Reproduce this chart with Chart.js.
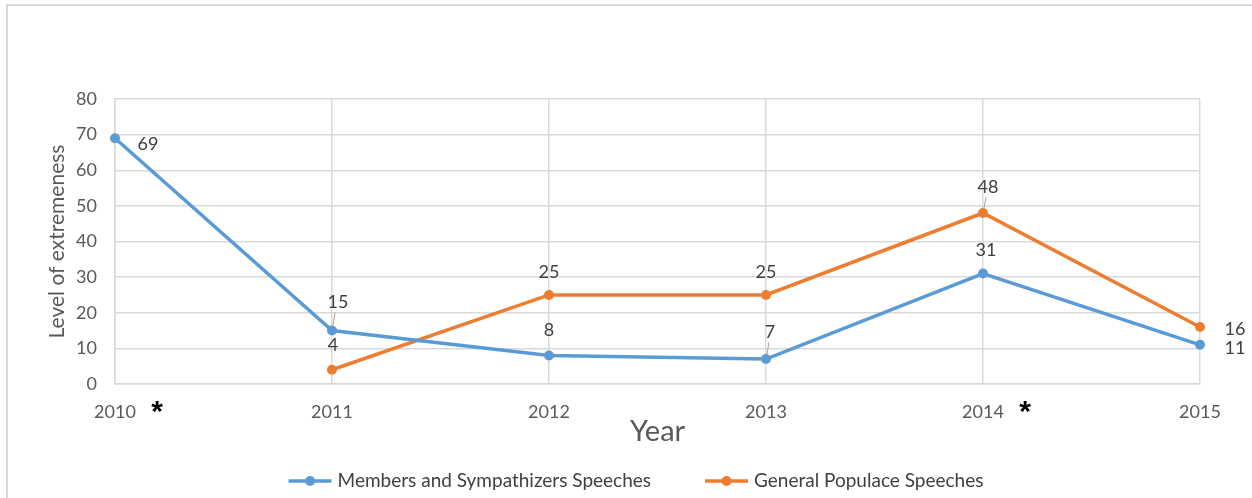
<!DOCTYPE html>
<html>
<head>
<meta charset="utf-8">
<script src="https://cdn.jsdelivr.net/npm/chart.js@4"></script>
<style>
  html, body { margin: 0; padding: 0; background: #fff; overflow: hidden; }
  #frame { position: absolute; left: 6px; top: 4px; width: 1300px; height: 600px; border: 2px solid #d9d9d9; box-sizing: border-box; }
  #wrap { position: absolute; left: 0; top: 0; width: 1252px; height: 498px; }
</style>
</head>
<body>
<div id="frame"></div>
<div id="wrap"><canvas id="chart" width="1252" height="498"></canvas></div>
<script>
// Years on the x axis
const years = ['2010', '2011', '2012', '2013', '2014', '2015'];
// Level of extremeness per year
const membersValues = [69, 15, 8, 7, 31, 11];
const populaceValues = [null, 4, 25, 25, 48, 16];
const yTicks = [0, 10, 20, 30, 40, 50, 60, 70, 80];
// Years marked with an asterisk
const starredYears = ['2010', '2014'];

const BLUE = '#5B9BD5';
const ORANGE = '#ED7D31';
const TEXT = '#595959';
const DARK = '#404040';
const GRID = '#d9d9d9';
const FONT = 'Lato';

// label placement around each point: [dx, dy, leader line]
const labelOffsets = [
  [[33, 6], [6, -28, true], [0, -25], [4, -27, true], [3, -23], [35, 3]],
  [null, [1, -25], [0, -23], [0, -23], [5, -26, true], [35, 2]]
];

const valueLabels = {
  id: 'valueLabels',
  afterDatasetsDraw(chart) {
    const ctx = chart.ctx;
    ctx.save();
    ctx.font = '18px ' + FONT;
    ctx.fillStyle = DARK;
    ctx.textAlign = 'center';
    ctx.textBaseline = 'middle';
    chart.data.datasets.forEach((ds, di) => {
      const meta = chart.getDatasetMeta(di);
      meta.data.forEach((pt, i) => {
        const v = ds.data[i];
        const off = labelOffsets[di][i];
        if (v === null || !off) return;
        const x = pt.x + off[0], y = pt.y + off[1];
        if (off[2]) {
          ctx.strokeStyle = '#a6a6a6';
          ctx.lineWidth = 1;
          ctx.beginPath();
          ctx.moveTo(pt.x + 1, pt.y - 5);
          ctx.lineTo(pt.x + 3, y + 10);
          ctx.stroke();
        }
        ctx.fillText(String(v), x, y);
      });
    });
    ctx.restore();
  }
};

const stars = {
  id: 'stars',
  afterDraw(chart) {
    const ctx = chart.ctx;
    const xs = chart.scales.x;
    ctx.save();
    ctx.font = 'bold 30px "Liberation Sans"';
    ctx.fillStyle = '#000';
    ctx.textAlign = 'center';
    const m = ctx.measureText('*');
    starredYears.forEach(yr => {
      const i = years.indexOf(yr);
      const x = xs.getPixelForTick(i) + 42;
      const cy = 407;
      ctx.fillText('*', x, cy + (m.actualBoundingBoxAscent - m.actualBoundingBoxDescent) / 2);
    });
    ctx.restore();
  }
};

// line-and-dot legend below the x axis title
const lineLegend = {
  id: 'lineLegend',
  afterDraw(chart) {
    const ctx = chart.ctx;
    const markW = 43, textGap = 6, itemGap = 54, cx = 636, cy = 481;
    ctx.save();
    ctx.font = '19px ' + FONT;
    ctx.textBaseline = 'middle';
    const items = chart.data.datasets.map(ds => ({ ds, w: markW + textGap + ctx.measureText(ds.label).width }));
    const total = items.reduce((s, it) => s + it.w, 0) + itemGap * (items.length - 1);
    let x = cx - total / 2;
    items.forEach(({ ds, w }) => {
      ctx.strokeStyle = ds.borderColor;
      ctx.lineWidth = 3.5;
      ctx.beginPath();
      ctx.moveTo(x, cy);
      ctx.lineTo(x + markW, cy);
      ctx.stroke();
      ctx.fillStyle = ds.borderColor;
      ctx.beginPath();
      ctx.arc(x + markW / 2, cy, 5, 0, Math.PI * 2);
      ctx.fill();
      ctx.fillStyle = DARK;
      ctx.textAlign = 'left';
      ctx.fillText(ds.label, x + markW + textGap, cy);
      x += w + itemGap;
    });
    ctx.restore();
  }
};

new Chart(document.getElementById('chart'), {
  type: 'line',
  data: {
    labels: years,
    datasets: [{
      label: 'Members and Sympathizers Speeches',
      data: membersValues,
      borderColor: BLUE,
      backgroundColor: BLUE,
      borderWidth: 3.5,
      pointRadius: 5,
      pointBorderWidth: 0,
      pointBackgroundColor: BLUE,
      tension: 0
    }, {
      label: 'General Populace Speeches',
      data: populaceValues,
      borderColor: ORANGE,
      backgroundColor: ORANGE,
      borderWidth: 3.5,
      pointRadius: 5,
      pointBorderWidth: 0,
      pointBackgroundColor: ORANGE,
      tension: 0
    }]
  },
  options: {
    responsive: false,
    animation: false,
    devicePixelRatio: 1,
    layout: { padding: { top: 99, right: 52, left: 0, bottom: 49 } },
    plugins: {
      tooltip: { enabled: false },
      legend: { display: false }
    },
    scales: {
      x: {
        offset: false,
        grid: { color: GRID, lineWidth: 1.5, drawTicks: false },
        border: { color: GRID, width: 1.5 },
        ticks: { color: TEXT, font: { family: FONT, size: 18 }, padding: 17, maxRotation: 0 },
        title: { display: true, text: 'Year', color: TEXT, font: { family: FONT, size: 29 }, padding: { top: 2, bottom: 0 } },
        afterFit(scale) { scale.height = 65; }
      },
      y: {
        min: 0,
        max: 80,
        afterBuildTicks(scale) { scale.ticks = yTicks.map(v => ({ value: v })); },
        grid: { color: GRID, lineWidth: 1.5, drawTicks: false },
        border: { color: GRID, width: 1.5 },
        ticks: { color: TEXT, font: { family: FONT, size: 18 }, padding: 18 },
        title: { display: true, text: 'Level of extremeness', color: TEXT, font: { family: FONT, size: 21 }, padding: { top: 45, bottom: 0 } },
        afterFit(scale) { scale.width = 115; }
      }
    }
  },
  plugins: [valueLabels, stars, lineLegend]
});
</script>
</body>
</html>
